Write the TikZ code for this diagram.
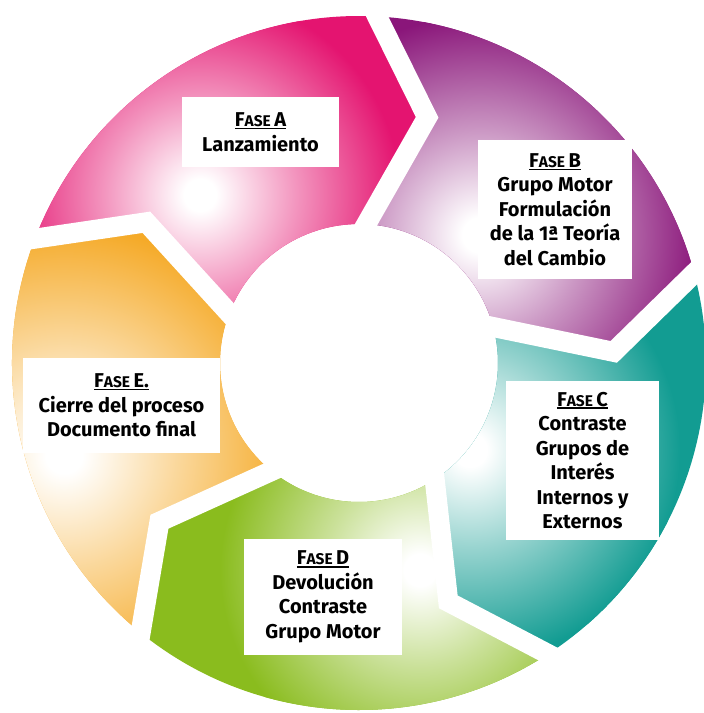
\documentclass[tikz,border=0pt]{standalone}
\usepackage{fontspec}
\setmainfont{Fira Sans}
\usetikzlibrary{calc}
\definecolor{pinkA}{RGB}{228,20,112}
\definecolor{purpB}{RGB}{138,22,122}
\definecolor{tealC}{RGB}{18,156,146}
\definecolor{greenD}{RGB}{138,188,30}
\definecolor{orangeE}{RGB}{245,170,40}
\colorlet{segcol}{white}
\pgfdeclareradialshading[segcol]{segshade}{\pgfpointorigin}{color(0bp)=(white);color(2bp)=(white);color(12bp)=(segcol!45!white);color(25bp)=(segcol);color(50bp)=(segcol)}
\newcommand\myul[1]{\setbox0\hbox{#1}\rlap{\rule[-2.6pt]{\wd0}{1.3pt}}\box0}
\newcommand\fase[1]{\myul{F{\fontsize{15.5}{15.5}\selectfont ASE}\hspace{3.5pt}#1}}
\tikzset{
  labelbox/.style={fill=white, inner sep=0pt, align=center,
    font=\bfseries\fontsize{20}{24.5}\selectfont}
}
\begin{document}
\begin{tikzpicture}[x=1pt,y=1pt]
\useasboundingbox (0,0) rectangle (704,-713);
\fill[white] (0,0) rectangle (704,-713);
\begin{scope}[shift={(359,-363)}]
\foreach \s/\e/\col/\gx/\gy/\rg in {159/87/pinkA/-159/168/100, 87/15/purpB/121/128/110, 15/-57/tealC/111/-87/105, -57/-129/greenD/61/-207/100, -129/-201/orangeE/-295/-92/115} {
  \begin{scope}
    \clip (\s:347) arc[start angle=\s, end angle=\e, radius=347] -- ({\e-12.5}:255) -- (\e:139) arc[start angle=\e, end angle=\s, radius=139] -- ({\s-12.5}:255) -- cycle;
    \fill[\col] (-400,-400) rectangle (400,400);
    \colorlet{segcol}{\col}
    \shade[shading=segshade] (\gx,\gy) circle ({2*\rg});
  \end{scope}
}
\foreach \t in {87,15,-57,-129,-201} {
  \draw[white, line width=20pt] ($({\t-12.5}:255)!1.2!(\t:347)$) -- ({\t-12.5}:255) -- ($({\t-12.5}:255)!1.3!(\t:139)$);
}
\end{scope}
\node[labelbox, minimum width=157pt, minimum height=70pt] (fa) at (260.5,-132) {\fase{A}\\Lanzamiento};
\node[labelbox, minimum width=154pt, minimum height=139pt] (fb) at (555,-209.5) {\fase{B}\\Grupo Motor\\Formulación\\de la 1ª Teoría\\del Cambio};
\node[labelbox, minimum width=153pt, minimum height=159pt] (fc) at (582.5,-460.5) {\fase{C}\\Contraste\\Grupos de\\Interés\\Internos y\\Externos};
\node[labelbox, minimum width=158pt, minimum height=116pt] (fd) at (323,-597) {\fase{D}\\Devolución\\Contraste\\Grupo Motor};
\node[labelbox, minimum width=197pt, minimum height=95pt] (fe) at (121.5,-405.5) {\fase{E.}\\Cierre del proceso\\Documento final};
\end{tikzpicture}
\end{document}
